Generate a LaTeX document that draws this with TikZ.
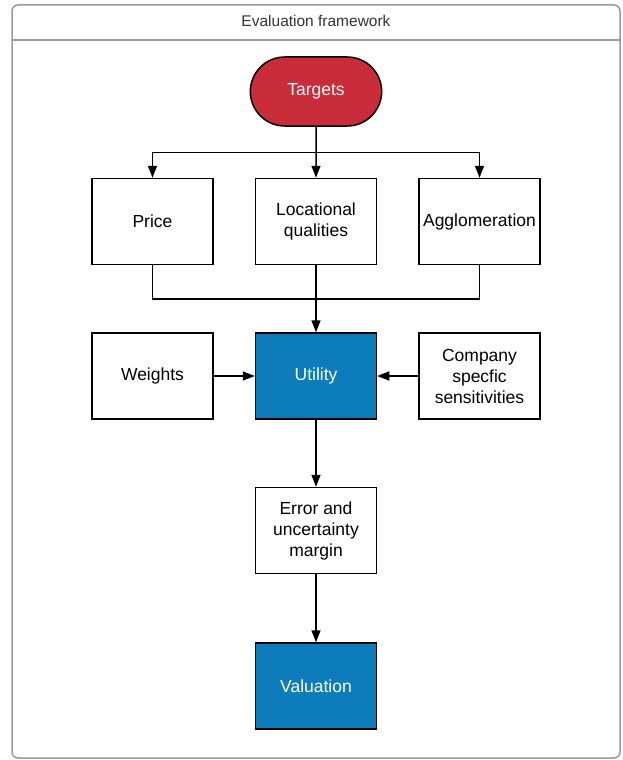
\documentclass[tikz,border=0pt]{standalone}
\usepackage{fontspec}
\setmainfont{Liberation Sans}
\usetikzlibrary{positioning, shapes.misc, arrows.meta, calc}

\definecolor{targetred}{HTML}{C92D39}
\definecolor{utilblue}{HTML}{0C7CBA}
\definecolor{framegray}{HTML}{9A9A9A}

\begin{document}
\begin{tikzpicture}[
    x=1pt, y=-1pt,
    node distance=67pt and 41pt,
    box/.style={rectangle, draw=black, line width=1.5pt, minimum width=121pt, minimum height=86pt, align=center, fill=white, font=\fontsize{17.5}{21}\selectfont},
    keybox/.style={box, fill=utilblue, text=white},
    terminal/.style={rounded rectangle, draw=black, line width=1.5pt, minimum width=138pt, minimum height=69pt, fill=targetred, text=white, font=\fontsize{17.5}{21}\selectfont},
    frame/.style={draw=framegray, line width=1.5pt},
    line/.style={draw=black, line width=1.5pt},
    arrow/.style={line, -{Triangle[length=12pt, width=9pt]}}
]
\useasboundingbox (0,0) rectangle (622,760);

% Outer frame
\draw[frame, rounded corners=6pt] (12,5) rectangle (620,758);
\draw[frame] (12,40) -- (620,40);
\node[font=\fontsize{15.5}{18}\selectfont, text=black!80] (title) at (316,21) {Evaluation framework};

% Targets
\node[terminal] (targets) at (316,91.5) {Targets};

% Factors
\node[box, below=51pt of targets] (locational) {Locational\\qualities};
\node[box, left=of locational] (price) {Price};
\node[box, right=of locational] (agglom) {Agglomeration};

% Utility row
\node[keybox, below=of locational] (utility) {Utility};
\node[box, left=of utility] (weights) {Weights};
\node[box, right=of utility] (sens) {Company\\specfic\\sensitivities};

% Bottom chain
\node[box, below=of utility] (error) {Error and\\uncertainty\\margin};
\node[keybox, below=68pt of error] (valuation) {Valuation};

% Connections
\coordinate (split) at ($(targets.south)!0.5!(locational.north)$);
\coordinate (merge) at ($(locational.south)!0.5!(utility.north)$);

\draw[arrow] (targets) -- (locational);
\draw[arrow] (split) -| (price);
\draw[arrow] (split) -| (agglom);

\draw[line] (price) |- (merge);
\draw[line] (agglom) |- (merge);
\draw[arrow] (locational) -- (utility);

\draw[arrow] (weights) -- (utility);
\draw[arrow] (sens) -- (utility);
\draw[arrow] (utility) -- (error);
\draw[arrow] (error) -- (valuation);

\end{tikzpicture}
\end{document}
